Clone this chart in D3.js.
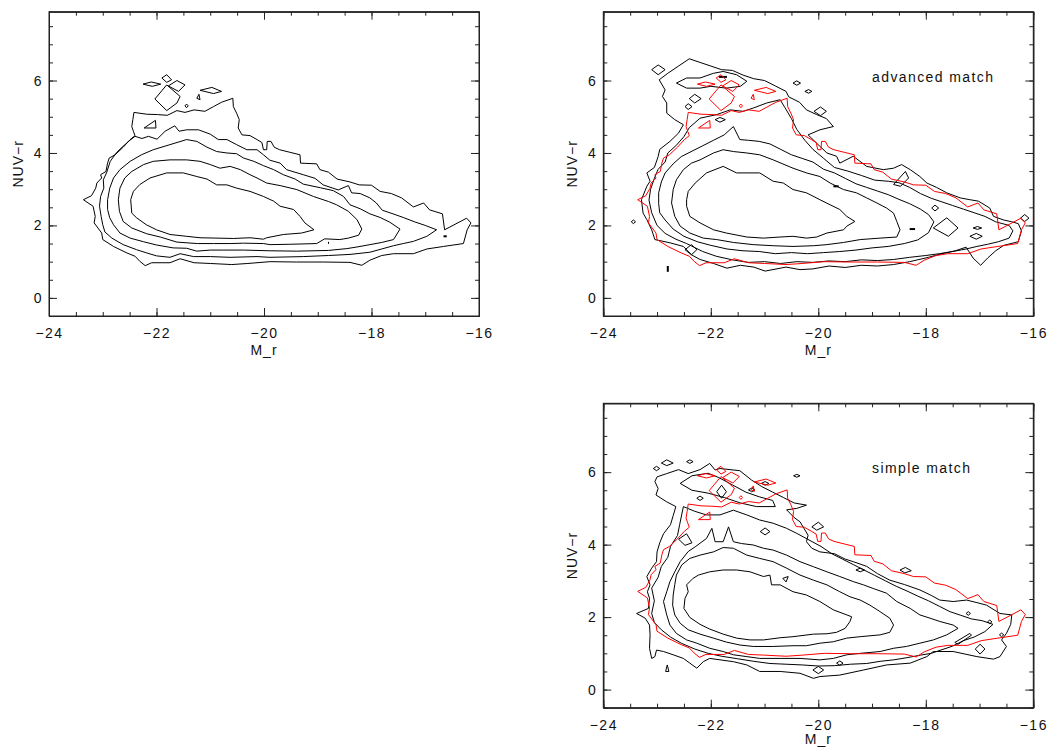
<!DOCTYPE html>
<html><head><meta charset="utf-8">
<script src="https://cdn.jsdelivr.net/npm/d3@7"></script>
<style>
body{margin:0;background:#fff}
text{font-family:"Liberation Sans",Arial,Helvetica,sans-serif;fill:#111}
</style></head>
<body><svg id="chart" width="1050" height="749"></svg>
<script>
// ---------- axes / ticks ----------
const xDomain = [-24, -16];
const yDomain = [-0.5, 7.9];
const xMajorTicks = [-24, -22, -20, -18, -16];
const yMajorTicks = [0, 2, 4, 6];
const xLabel = "M_r";
const yLabel = "NUV\u2212r";
const panelLabels = [null, "advanced match", "simple match"];
const labelPos = [-19.0, 5.97];

// ---------- panel 1 (reference sample) : 5 contour levels ----------
const p1Level1 = [[-23.36,2.71],[-23.21,2.82],[-23.13,3.03],[-23.11,3.17],[-23.02,3.31],[-23.04,3.40],[-22.94,3.49],[-22.91,3.72],[-22.88,3.86],[-22.77,3.95],[-22.62,4.16],[-22.49,4.37],[-22.40,4.48],[-22.43,4.60],[-22.46,4.73],[-22.44,4.92],[-22.42,5.12],[-22.18,5.07],[-21.98,5.06],[-21.80,5.04],[-21.62,5.17],[-21.47,5.12],[-21.30,5.19],[-21.10,5.15],[-20.94,5.28],[-20.79,5.40],[-20.58,5.51],[-20.57,5.28],[-20.51,5.10],[-20.46,4.92],[-20.48,4.69],[-20.41,4.50],[-20.26,4.48],[-20.13,4.37],[-20.04,4.29],[-20.01,4.09],[-19.95,4.09],[-19.94,4.32],[-19.87,4.32],[-19.81,4.16],[-19.71,4.09],[-19.52,4.02],[-19.33,3.95],[-19.32,3.72],[-19.02,3.70],[-18.96,3.54],[-18.80,3.47],[-18.64,3.28],[-18.40,3.20],[-18.23,3.12],[-18.00,3.11],[-17.84,2.94],[-17.63,2.88],[-17.44,2.76],[-17.22,2.51],[-17.03,2.62],[-16.92,2.43],[-16.68,2.32],[-16.64,1.88],[-16.23,2.20],[-16.15,2.07],[-16.22,1.88],[-16.29,1.50],[-16.66,1.42],[-16.97,1.35],[-17.22,1.22],[-17.59,1.22],[-17.81,1.17],[-18.03,1.04],[-18.18,0.90],[-18.40,0.98],[-18.90,0.99],[-19.40,0.99],[-19.89,1.00],[-20.30,0.95],[-20.60,0.92],[-21.00,0.95],[-21.30,0.97],[-21.56,1.08],[-21.75,0.97],[-22.09,0.97],[-22.21,0.89],[-22.31,1.01],[-22.40,1.15],[-22.55,1.24],[-22.80,1.42],[-23.00,1.61],[-23.02,1.79],[-23.16,2.07],[-23.14,2.25],[-23.18,2.53]];
const p1Level2 = [[-23.04,2.80],[-22.98,3.03],[-22.99,3.26],[-22.93,3.45],[-22.86,3.77],[-22.75,4.00],[-22.64,4.16],[-22.52,4.32],[-22.40,4.46],[-22.27,4.40],[-22.15,4.46],[-21.99,4.38],[-21.84,4.60],[-21.66,4.75],[-21.58,4.60],[-21.44,4.64],[-21.22,4.64],[-21.00,4.52],[-20.85,4.37],[-20.69,4.37],[-20.51,4.23],[-20.32,4.09],[-20.13,4.09],[-20.01,3.95],[-19.89,3.80],[-19.70,3.72],[-19.58,3.54],[-19.27,3.40],[-19.05,3.30],[-18.90,3.12],[-18.62,2.98],[-18.43,3.10],[-18.37,2.90],[-18.21,2.88],[-18.03,2.76],[-17.91,2.62],[-17.80,2.42],[-17.60,2.32],[-17.41,2.22],[-17.20,2.10],[-17.00,2.00],[-16.79,1.88],[-16.97,1.70],[-17.22,1.56],[-17.41,1.50],[-17.59,1.44],[-17.81,1.35],[-18.03,1.26],[-18.40,1.20],[-18.80,1.17],[-19.27,1.14],[-19.89,1.12],[-20.13,1.14],[-20.63,1.12],[-21.00,1.14],[-21.31,1.14],[-21.56,1.22],[-21.75,1.12],[-22.00,1.16],[-22.18,1.24],[-22.37,1.33],[-22.62,1.47],[-22.83,1.65],[-22.96,1.82],[-23.00,2.02],[-23.03,2.25],[-23.06,2.53]];
const p1Level3 = [[-22.91,2.71],[-22.87,3.03],[-22.80,3.31],[-22.68,3.54],[-22.49,3.77],[-22.28,3.95],[-22.06,4.09],[-21.75,4.23],[-21.44,4.37],[-21.25,4.32],[-21.06,4.16],[-20.88,4.04],[-20.69,4.00],[-20.51,3.98],[-20.38,3.86],[-20.19,3.77],[-20.01,3.65],[-19.82,3.54],[-19.64,3.40],[-19.42,3.28],[-19.27,3.14],[-18.95,3.04],[-18.71,2.96],[-18.52,2.80],[-18.40,2.57],[-18.21,2.46],[-18.03,2.32],[-17.84,2.22],[-17.66,2.09],[-17.47,1.90],[-17.59,1.61],[-17.81,1.53],[-18.03,1.47],[-18.25,1.41],[-18.46,1.36],[-18.80,1.31],[-19.39,1.29],[-19.89,1.30],[-20.38,1.32],[-20.76,1.32],[-21.00,1.32],[-21.25,1.29],[-21.44,1.37],[-21.69,1.38],[-22.00,1.46],[-22.24,1.55],[-22.49,1.65],[-22.68,1.79],[-22.80,2.02],[-22.87,2.21],[-22.91,2.44]];
const p1Level4 = [[-22.71,2.71],[-22.68,3.03],[-22.59,3.31],[-22.46,3.49],[-22.24,3.68],[-22.06,3.77],[-21.75,3.81],[-21.44,3.81],[-21.19,3.77],[-21.00,3.68],[-20.82,3.58],[-20.63,3.63],[-20.44,3.54],[-20.26,3.40],[-20.13,3.31],[-19.95,3.17],[-19.70,3.10],[-19.39,2.99],[-19.08,2.80],[-18.80,2.66],[-18.65,2.57],[-18.43,2.39],[-18.27,2.16],[-18.18,1.90],[-18.24,1.73],[-18.43,1.65],[-18.59,1.61],[-18.87,1.63],[-19.02,1.50],[-19.52,1.48],[-19.89,1.47],[-20.01,1.50],[-20.38,1.51],[-20.63,1.50],[-20.94,1.50],[-21.24,1.50],[-21.62,1.54],[-21.93,1.68],[-22.18,1.77],[-22.46,1.93],[-22.62,2.11],[-22.69,2.39]];
const p1Level5 = [[-22.48,2.71],[-22.43,2.94],[-22.31,3.13],[-22.12,3.31],[-21.81,3.45],[-21.50,3.45],[-21.25,3.35],[-21.06,3.28],[-20.88,3.12],[-20.69,3.12],[-20.51,3.03],[-20.26,2.94],[-20.01,2.80],[-19.82,2.67],[-19.70,2.53],[-19.45,2.44],[-19.33,2.25],[-19.24,2.07],[-19.07,1.88],[-19.30,1.79],[-19.64,1.75],[-19.95,1.66],[-20.01,1.62],[-20.26,1.66],[-20.57,1.64],[-21.19,1.66],[-21.44,1.70],[-21.75,1.75],[-22.00,1.88],[-22.19,2.02],[-22.37,2.21],[-22.46,2.34]];
const p1Islands = [
  [[-22.03,5.49],[-21.81,5.88],[-21.56,5.56],[-21.62,5.38],[-21.81,5.17]],
  [[-22.25,5.90],[-22.10,5.96],[-21.92,5.90],[-22.08,5.84]],
  [[-21.90,6.07],[-21.81,6.16],[-21.72,6.02],[-21.81,5.95]],
  [[-21.78,5.85],[-21.62,6.00],[-21.47,5.88],[-21.59,5.70]],
  [[-21.47,5.30],[-21.44,5.35],[-21.41,5.30],[-21.44,5.25]],
  [[-21.25,5.51],[-21.21,5.62],[-21.19,5.47]],
  [[-21.19,5.73],[-20.97,5.81],[-20.79,5.70],[-20.94,5.64]],
  [[-22.23,4.69],[-22.02,4.90],[-22.01,4.69]]
];
const p1Dashes = [[[-18.81,1.52],[-18.79,1.52]],[[-16.66,1.70],[-16.60,1.70]]];

// ---------- panel 2 (advanced match) ----------
const p2Level1 = [[-23.29,2.71],[-23.19,3.08],[-23.13,3.22],[-23.19,3.45],[-23.05,3.60],[-22.98,3.90],[-22.95,4.10],[-22.76,4.32],[-22.60,4.55],[-22.51,4.78],[-22.67,4.92],[-22.82,5.10],[-22.82,5.38],[-22.90,5.56],[-22.85,5.74],[-22.96,6.02],[-22.80,6.20],[-22.60,6.40],[-22.40,6.60],[-22.20,6.50],[-22.00,6.40],[-21.80,6.30],[-21.60,6.28],[-21.40,6.15],[-21.20,6.05],[-21.00,6.00],[-20.80,5.85],[-20.60,5.70],[-20.55,5.55],[-20.35,5.40],[-20.22,5.19],[-20.03,5.06],[-19.85,4.95],[-19.72,4.73],[-19.97,4.64],[-20.19,4.50],[-20.03,4.27],[-19.84,4.00],[-19.66,3.91],[-19.60,3.72],[-19.35,3.91],[-19.10,3.63],[-18.79,3.54],[-18.60,3.58],[-18.45,3.68],[-18.29,3.54],[-18.11,3.35],[-17.98,3.17],[-17.80,3.05],[-17.61,2.90],[-17.36,2.76],[-17.18,2.71],[-17.02,2.67],[-16.81,2.48],[-16.74,2.25],[-16.55,2.15],[-16.40,2.10],[-16.28,2.05],[-16.22,1.85],[-16.28,1.55],[-16.55,1.45],[-16.70,1.30],[-16.85,1.10],[-16.98,0.90],[-17.12,1.10],[-17.25,1.40],[-17.45,1.30],[-17.70,1.22],[-17.95,1.12],[-18.30,1.00],[-18.60,0.92],[-18.90,0.88],[-19.20,0.90],[-19.50,0.84],[-19.80,0.88],[-20.10,0.80],[-20.34,0.78],[-20.60,0.85],[-20.99,0.74],[-21.20,0.85],[-21.45,0.90],[-21.70,0.82],[-21.95,0.95],[-22.20,1.06],[-22.36,1.19],[-22.51,1.42],[-22.76,1.52],[-23.04,1.61],[-23.10,1.88],[-23.19,2.16],[-23.26,2.34]];
const p2Level2 = [[-23.15,2.70],[-23.12,3.00],[-23.05,3.30],[-22.98,3.55],[-22.85,3.75],[-22.80,4.00],[-22.65,4.20],[-22.50,4.45],[-22.40,4.70],[-22.20,4.96],[-21.89,5.06],[-21.64,5.19],[-21.40,5.15],[-21.21,5.24],[-20.96,5.38],[-20.71,5.47],[-20.62,5.25],[-20.50,4.95],[-20.40,4.65],[-20.25,4.35],[-20.10,4.10],[-19.90,3.85],[-19.70,3.60],[-19.45,3.50],[-19.20,3.38],[-18.95,3.25],[-18.70,3.22],[-18.50,3.18],[-18.30,3.05],[-18.10,2.88],[-17.90,2.75],[-17.70,2.65],[-17.50,2.55],[-17.30,2.45],[-17.10,2.35],[-16.90,2.25],[-16.70,2.10],[-16.45,2.00],[-16.38,1.85],[-16.45,1.65],[-16.65,1.55],[-16.85,1.48],[-17.05,1.42],[-17.25,1.35],[-17.50,1.28],[-17.75,1.22],[-18.00,1.17],[-18.30,1.12],[-18.60,1.06],[-18.90,1.03],[-19.20,1.05],[-19.50,1.00],[-19.80,1.02],[-20.10,0.98],[-20.40,1.00],[-20.70,0.95],[-21.00,1.00],[-21.30,0.98],[-21.60,1.05],[-21.90,1.15],[-22.15,1.28],[-22.45,1.50],[-22.65,1.62],[-22.85,1.78],[-23.00,2.00],[-23.10,2.35]];
const p2Level3 = [[-22.97,2.60],[-22.97,2.90],[-22.92,3.20],[-22.85,3.45],[-22.70,3.70],[-22.55,3.90],[-22.35,4.05],[-22.15,4.20],[-21.95,4.35],[-21.75,4.50],[-21.58,4.73],[-21.46,4.37],[-21.30,4.35],[-21.10,4.32],[-20.90,4.25],[-20.70,4.10],[-20.50,3.95],[-20.30,3.85],[-20.10,3.75],[-19.90,3.55],[-19.70,3.45],[-19.50,3.30],[-19.30,3.15],[-19.10,3.05],[-18.90,2.95],[-18.70,2.85],[-18.50,2.72],[-18.30,2.60],[-18.10,2.45],[-17.95,2.30],[-17.85,2.10],[-17.95,1.80],[-18.15,1.60],[-18.40,1.50],[-18.70,1.42],[-19.00,1.38],[-19.30,1.32],[-19.60,1.28],[-19.90,1.25],[-20.20,1.22],[-20.50,1.25],[-20.80,1.22],[-21.10,1.28],[-21.40,1.30],[-21.70,1.35],[-22.00,1.45],[-22.25,1.55],[-22.50,1.70],[-22.70,1.90],[-22.85,2.15],[-22.95,2.35]];
const p2Level4 = [[-22.73,2.62],[-22.70,2.99],[-22.64,3.26],[-22.51,3.54],[-22.36,3.72],[-22.20,3.81],[-21.95,4.00],[-21.77,4.09],[-21.58,4.04],[-21.33,4.00],[-21.09,3.95],[-20.84,3.81],[-20.47,3.58],[-20.22,3.45],[-19.97,3.35],[-19.78,3.17],[-19.53,2.99],[-19.29,2.90],[-19.10,2.76],[-18.91,2.62],[-18.73,2.48],[-18.60,2.34],[-18.54,2.11],[-18.48,1.88],[-18.54,1.68],[-18.85,1.65],[-19.22,1.61],[-19.53,1.53],[-19.84,1.47],[-20.09,1.44],[-20.47,1.42],[-20.84,1.44],[-21.21,1.47],[-21.58,1.53],[-21.89,1.61],[-22.14,1.65],[-22.39,1.79],[-22.57,1.98],[-22.67,2.25]];
const p2Level5 = [[-22.45,2.71],[-22.42,2.94],[-22.29,3.17],[-22.08,3.45],[-21.77,3.63],[-21.52,3.45],[-21.09,3.45],[-20.84,3.22],[-20.65,3.17],[-20.47,2.99],[-20.22,2.90],[-19.97,2.71],[-19.78,2.57],[-19.60,2.44],[-19.47,2.25],[-19.32,2.11],[-19.47,1.98],[-19.53,1.88],[-19.84,1.79],[-20.03,1.68],[-20.22,1.65],[-20.47,1.70],[-20.71,1.68],[-21.02,1.65],[-21.33,1.68],[-21.71,1.79],[-21.95,1.88],[-22.20,2.07],[-22.39,2.25],[-22.45,2.53]];
const p2Islands = [
  [[-23.10,6.30],[-22.98,6.43],[-22.85,6.30],[-22.98,6.16]],
  [[-22.64,5.93],[-22.45,6.07],[-22.20,6.07],[-21.95,6.20],[-21.77,6.25],[-21.52,6.16],[-21.33,5.98],[-21.45,5.84],[-21.71,5.79],[-22.00,5.84],[-22.20,5.79],[-22.45,5.79]],
  [[-22.40,5.50],[-22.30,5.62],[-22.18,5.50],[-22.30,5.38]],
  [[-22.48,5.28],[-22.42,5.36],[-22.35,5.28],[-22.42,5.20]],
  [[-21.92,4.92],[-21.83,4.98],[-21.73,4.92],[-21.83,4.85]],
  [[-20.47,5.93],[-20.40,5.99],[-20.33,5.93],[-20.40,5.87]],
  [[-20.25,5.70],[-20.18,5.75],[-20.12,5.70],[-20.18,5.65]],
  [[-20.08,5.15],[-19.96,5.27],[-19.85,5.15],[-19.96,5.03]],
  [[-23.48,2.10],[-23.44,2.15],[-23.40,2.10],[-23.44,2.05]],
  [[-22.48,1.33],[-22.36,1.47],[-22.26,1.33],[-22.36,1.19]],
  [[-18.60,3.13],[-18.38,3.49],[-18.32,3.31],[-18.47,3.08]],
  [[-17.86,1.93],[-17.61,2.21],[-17.40,1.93],[-17.58,1.70]],
  [[-17.89,2.48],[-17.83,2.56],[-17.76,2.48],[-17.83,2.40]],
  [[-17.12,1.93],[-17.04,1.97],[-16.96,1.93],[-17.04,1.89]],
  [[-17.18,1.70],[-17.06,1.78],[-16.95,1.70],[-17.06,1.62]],
  [[-16.24,2.20],[-16.16,2.30],[-16.08,2.20],[-16.16,2.11]]
];
const p2Dashes = [[[-21.85,6.10],[-21.70,6.10]],[[-19.72,3.08],[-19.62,3.08]],[[-18.30,1.90],[-18.20,1.90]],[[-22.80,0.72],[-22.80,0.88]]];

// ---------- panel 3 (simple match) ----------
const p3Level1 = [[-23.38,2.10],[-23.16,2.24],[-23.14,2.52],[-23.18,2.70],[-23.13,2.89],[-23.19,3.12],[-23.10,3.35],[-23.01,3.53],[-23.00,3.80],[-22.95,4.05],[-22.88,4.30],[-22.75,4.55],[-22.70,4.80],[-22.65,5.05],[-22.82,5.18],[-23.02,5.37],[-22.98,5.55],[-23.04,5.74],[-23.00,5.87],[-22.82,5.96],[-22.60,6.07],[-22.42,5.96],[-22.20,6.07],[-22.02,6.24],[-21.92,6.06],[-21.83,6.10],[-21.46,6.04],[-21.24,5.78],[-21.05,5.60],[-20.85,5.45],[-20.65,5.30],[-20.45,5.15],[-20.22,5.09],[-20.40,5.00],[-20.59,4.96],[-20.45,4.75],[-20.34,4.63],[-20.19,4.26],[-20.22,4.08],[-20.12,3.90],[-19.97,3.80],[-19.70,3.75],[-19.50,3.60],[-19.35,3.53],[-19.10,3.40],[-18.90,3.20],[-18.67,3.02],[-18.40,2.90],[-18.11,2.75],[-17.90,2.60],[-17.74,2.47],[-17.49,2.43],[-17.24,2.47],[-17.05,2.40],[-16.87,2.33],[-16.62,2.10],[-16.40,2.06],[-16.42,1.80],[-16.50,1.55],[-16.59,1.37],[-16.50,1.19],[-16.62,0.91],[-16.74,0.84],[-17.05,0.91],[-17.49,1.05],[-17.86,1.05],[-17.98,0.91],[-18.29,0.73],[-18.73,0.68],[-19.16,0.54],[-19.60,0.40],[-19.97,0.36],[-20.09,0.31],[-20.34,0.45],[-20.71,0.50],[-21.09,0.50],[-21.33,0.68],[-21.58,0.77],[-22.02,0.86],[-22.14,0.77],[-22.26,0.59],[-22.39,0.73],[-22.51,0.86],[-22.70,0.96],[-22.88,1.05],[-23.01,1.09],[-23.04,0.91],[-23.10,0.86],[-23.14,1.14],[-23.13,1.51],[-23.14,1.78],[-23.22,1.97]];
const p3Level2 = [[-23.10,2.10],[-23.05,2.45],[-23.10,2.80],[-22.98,3.10],[-22.92,3.40],[-22.80,3.65],[-22.75,3.95],[-22.62,4.25],[-22.58,4.55],[-22.51,5.05],[-22.30,4.92],[-22.08,4.82],[-21.83,4.82],[-21.58,4.95],[-21.33,4.82],[-21.09,4.68],[-20.84,4.59],[-20.59,4.45],[-20.40,4.31],[-20.20,4.15],[-19.95,3.95],[-19.75,3.75],[-19.55,3.60],[-19.35,3.45],[-19.15,3.30],[-18.95,3.15],[-18.75,3.00],[-18.55,2.85],[-18.35,2.72],[-18.15,2.58],[-17.95,2.45],[-17.75,2.30],[-17.55,2.15],[-17.35,2.05],[-17.15,1.95],[-16.95,1.90],[-16.75,1.80],[-16.90,1.60],[-17.10,1.45],[-17.30,1.35],[-17.50,1.20],[-17.70,1.10],[-17.90,1.00],[-18.10,0.95],[-18.35,0.88],[-18.60,0.82],[-18.85,0.78],[-19.10,0.72],[-19.40,0.70],[-19.70,0.66],[-20.00,0.65],[-20.30,0.68],[-20.60,0.70],[-20.90,0.72],[-21.20,0.78],[-21.50,0.85],[-21.80,0.92],[-22.05,1.00],[-22.30,1.12],[-22.55,1.28],[-22.75,1.45],[-22.92,1.65],[-23.05,1.85]];
const p3Level3 = [[-22.88,2.43],[-22.82,2.70],[-22.76,2.98],[-22.67,3.25],[-22.57,3.53],[-22.42,3.81],[-22.29,3.94],[-22.08,4.17],[-21.98,4.45],[-21.92,4.08],[-21.77,4.08],[-21.67,4.49],[-21.58,4.08],[-21.43,4.03],[-21.21,3.99],[-21.02,3.90],[-20.84,3.85],[-20.59,3.71],[-20.34,3.53],[-20.09,3.39],[-19.84,3.25],[-19.60,3.12],[-19.35,2.98],[-19.16,2.89],[-18.98,2.79],[-18.73,2.66],[-18.54,2.43],[-18.29,2.24],[-18.11,2.06],[-17.92,1.97],[-17.74,1.88],[-17.49,1.78],[-17.40,1.69],[-17.61,1.51],[-17.86,1.37],[-18.11,1.28],[-18.36,1.19],[-18.60,1.14],[-18.85,1.05],[-19.22,1.00],[-19.47,0.96],[-19.72,0.86],[-19.97,0.82],[-20.34,0.86],[-20.71,0.86],[-21.09,0.86],[-21.33,0.91],[-21.58,0.96],[-21.77,1.05],[-22.02,1.14],[-22.26,1.28],[-22.45,1.37],[-22.64,1.55],[-22.76,1.78],[-22.82,2.06]];
const p3Level4 = [[-22.70,2.61],[-22.67,2.90],[-22.64,3.16],[-22.54,3.44],[-22.39,3.62],[-22.20,3.71],[-21.95,3.80],[-21.77,3.92],[-21.58,3.90],[-21.33,3.71],[-21.09,3.62],[-20.84,3.53],[-20.59,3.35],[-20.34,3.16],[-20.09,3.02],[-19.84,2.89],[-19.60,2.70],[-19.41,2.56],[-19.22,2.47],[-19.04,2.33],[-18.85,2.15],[-18.67,1.97],[-18.60,1.78],[-18.67,1.58],[-18.85,1.51],[-19.22,1.46],[-19.47,1.42],[-19.72,1.32],[-19.97,1.28],[-20.22,1.21],[-20.47,1.21],[-20.84,1.19],[-21.21,1.19],[-21.46,1.23],[-21.71,1.31],[-21.95,1.42],[-22.20,1.53],[-22.42,1.65],[-22.57,1.83],[-22.67,2.06],[-22.71,2.33]];
const p3Level5 = [[-22.50,2.24],[-22.48,2.52],[-22.42,2.70],[-22.45,2.89],[-22.33,3.07],[-22.23,3.16],[-22.02,3.25],[-21.77,3.30],[-21.52,3.30],[-21.27,3.25],[-21.02,3.12],[-20.90,3.16],[-20.87,2.89],[-20.71,2.89],[-20.47,2.70],[-20.22,2.61],[-19.97,2.43],[-19.72,2.20],[-19.47,2.06],[-19.38,2.01],[-19.41,1.88],[-19.50,1.69],[-19.66,1.58],[-19.84,1.54],[-20.09,1.53],[-20.47,1.46],[-20.71,1.43],[-21.02,1.37],[-21.27,1.37],[-21.52,1.42],[-21.77,1.53],[-22.02,1.67],[-22.20,1.80],[-22.39,1.99]];
const p3Islands = [
  [[-23.07,6.10],[-23.01,6.16],[-22.95,6.10],[-23.01,6.04]],
  [[-22.92,6.25],[-22.82,6.34],[-22.70,6.25],[-22.82,6.18]],
  [[-22.45,6.29],[-22.39,6.34],[-22.33,6.29],[-22.39,6.24]],
  [[-20.46,5.90],[-20.40,5.94],[-20.34,5.90],[-20.40,5.86]],
  [[-22.57,5.69],[-22.35,5.90],[-22.05,5.97],[-21.85,5.85],[-21.60,5.65],[-21.35,5.45],[-21.10,5.32],[-20.85,5.22],[-20.80,5.05],[-21.15,5.05],[-21.45,5.15],[-21.75,5.30],[-22.05,5.42],[-22.35,5.50]],
  [[-21.89,5.46],[-21.80,5.64],[-21.71,5.46],[-21.80,5.28]],
  [[-22.26,5.28],[-22.20,5.34],[-22.14,5.28],[-22.20,5.22]],
  [[-21.30,5.51],[-21.24,5.56],[-21.18,5.51],[-21.24,5.46]],
  [[-21.06,5.69],[-20.99,5.74],[-20.92,5.69],[-20.99,5.64]],
  [[-20.12,4.49],[-20.00,4.62],[-19.90,4.49],[-20.03,4.40]],
  [[-21.08,4.36],[-20.99,4.46],[-20.90,4.36],[-20.99,4.27]],
  [[-22.60,4.15],[-22.45,4.30],[-22.35,4.05],[-22.48,3.98]],
  [[-19.30,3.30],[-19.22,3.35],[-19.14,3.30],[-19.22,3.25]],
  [[-18.48,3.30],[-18.38,3.37],[-18.27,3.28],[-18.39,3.22]],
  [[-22.84,0.50],[-22.81,0.68],[-22.78,0.50]],
  [[-20.10,0.54],[-20.00,0.64],[-19.90,0.54],[-20.00,0.44]],
  [[-19.66,0.73],[-19.60,0.79],[-19.54,0.73],[-19.60,0.67]],
  [[-20.66,3.07],[-20.56,3.12],[-20.60,2.97]],
  [[-17.25,2.10],[-17.21,2.15],[-17.17,2.10],[-17.21,2.05]],
  [[-16.85,1.87],[-16.81,1.92],[-16.77,1.87],[-16.81,1.82]],
  [[-16.63,1.51],[-16.59,1.56],[-16.55,1.51],[-16.59,1.46]],
  [[-17.08,1.12],[-16.99,1.25],[-16.90,1.12],[-16.99,0.98]],
  [[-17.46,1.30],[-17.18,1.55],[-17.15,1.50],[-17.40,1.25]]
];
const p3Dashes = [];

// ---------- drawing ----------
const svg = d3.select("#chart");
const panels = [
  {x0: 49,    y0: 11.7,  w: 430, h: 304.3, titleDy: 39, levels: [p1Level1,p1Level2,p1Level3,p1Level4,p1Level5], islands: p1Islands, dashes: p1Dashes, red: false, label: panelLabels[0]},
  {x0: 603.3, y0: 11.7,  w: 430, h: 304.3, titleDy: 39, levels: [p2Level1,p2Level2,p2Level3,p2Level4,p2Level5], islands: p2Islands, dashes: p2Dashes, red: true,  label: panelLabels[1]},
  {x0: 603.3, y0: 403.3, w: 430, h: 304.4, titleDy: 36, levels: [p3Level1,p3Level2,p3Level3,p3Level4,p3Level5], islands: p3Islands, dashes: p3Dashes, red: true,  label: panelLabels[2]}
];

panels.forEach(p => {
  const x = d3.scaleLinear().domain(xDomain).range([p.x0, p.x0 + p.w]);
  const y = d3.scaleLinear().domain(yDomain).range([p.y0 + p.h, p.y0]);
  const g = svg.append("g");
  const closed = d3.line().x(d => x(d[0])).y(d => y(d[1])).curve(d3.curveLinearClosed);
  const open = d3.line().x(d => x(d[0])).y(d => y(d[1]));

  // contours
  const cg = g.append("g").attr("fill", "none").attr("stroke", "#000").attr("stroke-width", 1).attr("stroke-linejoin", "round");
  p.levels.forEach(lv => cg.append("path").attr("d", closed(lv)));
  p.islands.forEach(lv => cg.append("path").attr("d", closed(lv)));
  p.dashes.forEach(d => cg.append("path").attr("d", open(d)).attr("stroke-width", 2));

  if (p.red) {
    const rg = g.append("g").attr("fill", "none").attr("stroke", "#ff0000").attr("stroke-width", 1).attr("stroke-linejoin", "round");
    rg.append("path").attr("d", closed(p1Level1));
    p1Islands.forEach(lv => rg.append("path").attr("d", closed(lv)));
  }

  // axes (inward ticks, all four sides)
  const fmt = d3.format("d");
  const minorX = x.ticks(16), minorY = y.ticks(17);
  g.append("g").attr("transform", `translate(0,${p.y0 + p.h})`)
    .call(d3.axisBottom(x).tickValues(xMajorTicks).tickSize(-8).tickSizeOuter(0).tickPadding(12).tickFormat(fmt));
  g.append("g").attr("transform", `translate(0,${p.y0 + p.h})`)
    .call(d3.axisBottom(x).tickValues(minorX).tickSize(-4).tickSizeOuter(0).tickFormat(""));
  g.append("g").attr("transform", `translate(0,${p.y0})`)
    .call(d3.axisTop(x).tickValues(xMajorTicks).tickSize(-8).tickSizeOuter(0).tickFormat(""));
  g.append("g").attr("transform", `translate(0,${p.y0})`)
    .call(d3.axisTop(x).tickValues(minorX).tickSize(-4).tickSizeOuter(0).tickFormat(""));
  g.append("g").attr("transform", `translate(${p.x0},0)`)
    .call(d3.axisLeft(y).tickValues(yMajorTicks).tickSize(-8).tickSizeOuter(0).tickPadding(6).tickFormat(fmt));
  g.append("g").attr("transform", `translate(${p.x0},0)`)
    .call(d3.axisLeft(y).tickValues(minorY).tickSize(-4).tickSizeOuter(0).tickFormat(""));
  g.append("g").attr("transform", `translate(${p.x0 + p.w},0)`)
    .call(d3.axisRight(y).tickValues(yMajorTicks).tickSize(-8).tickSizeOuter(0).tickFormat(""));
  g.append("g").attr("transform", `translate(${p.x0 + p.w},0)`)
    .call(d3.axisRight(y).tickValues(minorY).tickSize(-4).tickSizeOuter(0).tickFormat(""));
  g.selectAll(".domain").attr("stroke", "#222");
  g.selectAll(".tick line").attr("stroke", "#222");
  g.selectAll(".tick text").attr("font-size", 14).attr("fill", "#111")
    .attr("font-family", '"Liberation Sans",Arial,sans-serif').style("letter-spacing", "1.5px");

  g.append("rect").attr("x", p.x0).attr("y", p.y0).attr("width", p.w).attr("height", p.h)
    .attr("fill", "none").attr("stroke", "#222").attr("stroke-width", 1);

  // axis titles
  g.append("text").attr("x", p.x0 + p.w / 2).attr("y", p.y0 + p.h + p.titleDy)
    .attr("text-anchor", "middle").attr("font-size", 14).style("letter-spacing", "1px").text(xLabel);
  g.append("text").attr("transform", `translate(${p.x0 - 26},${p.y0 + p.h / 2}) rotate(-90)`)
    .attr("text-anchor", "middle").attr("font-size", 14).style("letter-spacing", "1px").text(yLabel);

  if (p.label) {
    g.append("text").attr("x", x(labelPos[0])).attr("y", y(labelPos[1]))
      .attr("font-size", 14).style("letter-spacing", "1.4px").text(p.label);
  }
});
</script>
</body></html>
